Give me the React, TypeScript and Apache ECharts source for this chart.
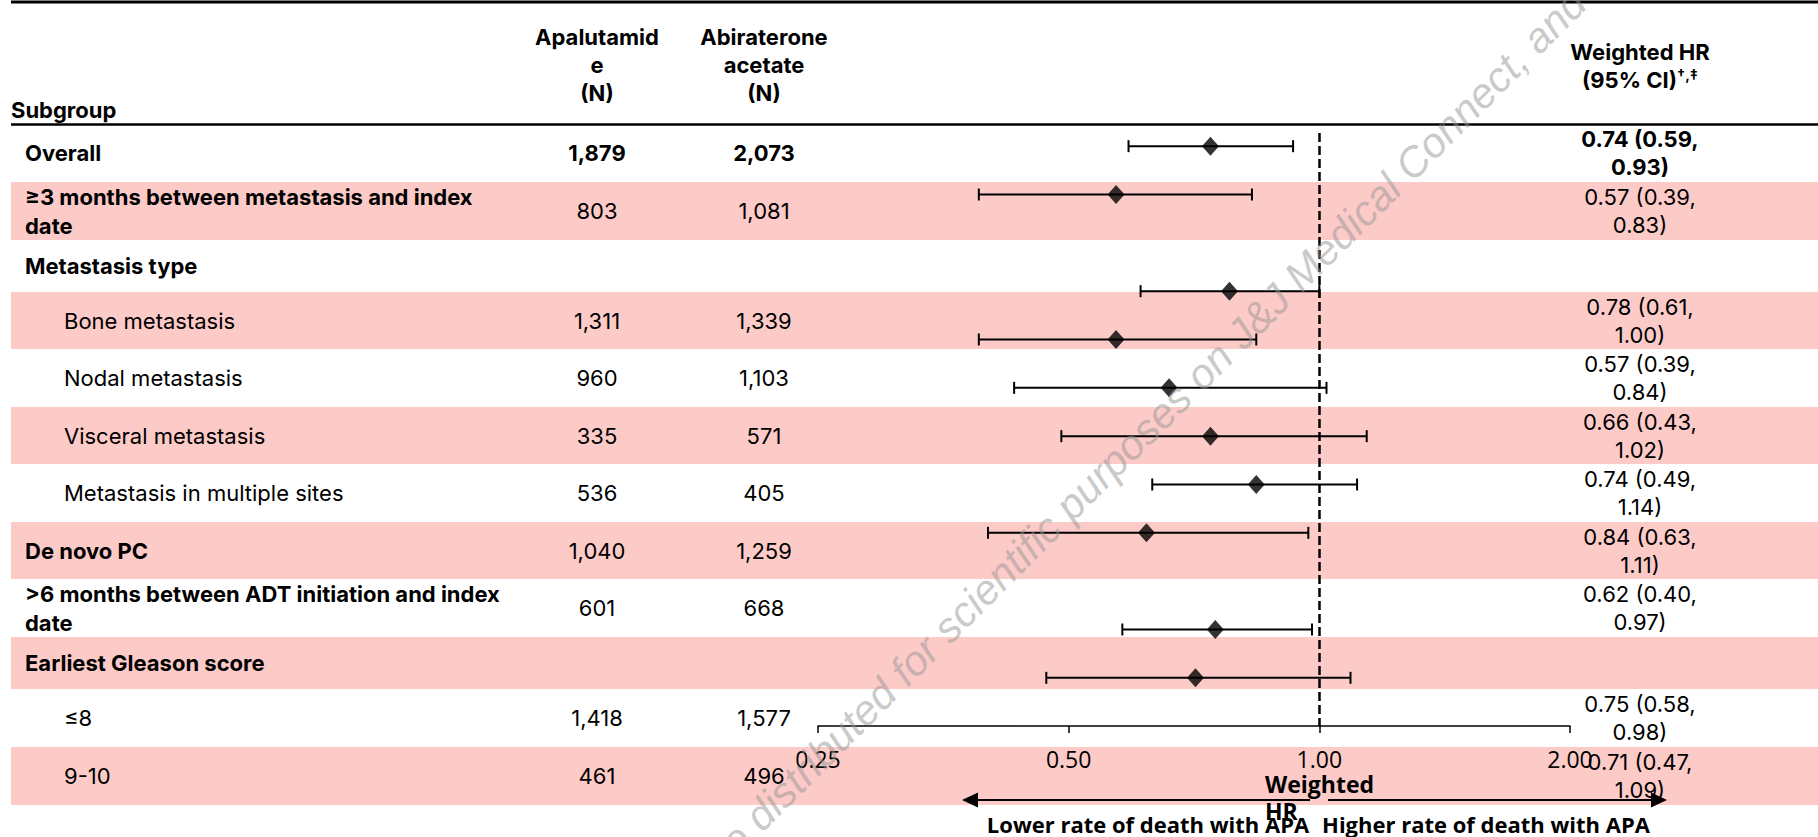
import React, { useEffect, useRef } from "react";
import * as echarts from "echarts";

// ---------------- data ----------------
const subgroups: string[] = [
  "Overall",
  "≥3 months between metastasis and index\ndate",
  "Metastasis type",
  "Bone metastasis",
  "Nodal metastasis",
  "Visceral metastasis",
  "Metastasis in multiple sites",
  "De novo PC",
  ">6 months between ADT initiation and index\ndate",
  "Earliest Gleason score",
  "≤8",
  "9-10",
];
const isHeading: boolean[] = [true, true, true, false, false, false, false, true, true, true, false, false];
const apalutamideN: (number | null)[] = [1879, 803, null, 1311, 960, 335, 536, 1040, 601, null, 1418, 461];
const abirateroneN: (number | null)[] = [2073, 1081, null, 1339, 1103, 571, 405, 1259, 668, null, 1577, 496];
const hrValues: (number | null)[] = [0.74, 0.57, null, 0.78, 0.57, 0.66, 0.74, 0.84, 0.62, null, 0.75, 0.71];
const ciLower: (number | null)[] = [0.59, 0.39, null, 0.61, 0.39, 0.43, 0.49, 0.63, 0.40, null, 0.58, 0.47];
const ciUpper: (number | null)[] = [0.93, 0.83, null, 1.00, 0.84, 1.02, 1.14, 1.11, 0.97, null, 0.98, 1.09];
const referenceHR = 1;
const xMin = 0.25;
const xMax = 2;

// ---------------- layout ----------------
const W = 1818;
const H = 837;
const TABLE_FONT = "Inter, 'Liberation Sans', sans-serif";
const AXIS_FONT = "'Open Sans', sans-serif";
const PINK = "#fccac7";
const ROW_TOP = 124;
const rowHeights = [58, 58, 52, 57, 58, 57, 58, 57, 58, 52, 58, 58];
const COL_APA = 597;
const COL_ABI = 764;
const COL_HR = 1640;

function fmtN(n: number | null) {
  return n == null ? "" : n.toLocaleString("en-US");
}

function buildGraphics() {
  const els: any[] = [];
  const tops: number[] = [];
  let t = ROW_TOP;
  rowHeights.forEach((h) => {
    tops.push(t);
    t += h;
  });

  // striped bands
  subgroups.forEach((_, i) => {
    if (i % 2 === 1) {
      els.push({
        type: "rect",
        z: 0,
        silent: true,
        shape: { x: 11, y: tops[i], width: W - 11, height: rowHeights[i] },
        style: { fill: PINK },
      });
    }
  });

  // rules
  els.push({ type: "line", z: 1, shape: { x1: 11, y1: 2, x2: W, y2: 2 }, style: { stroke: "#000", lineWidth: 3 } });
  els.push({ type: "line", z: 1, shape: { x1: 11, y1: 124.5, x2: W, y2: 124.5 }, style: { stroke: "#000", lineWidth: 2.5 } });

  const txt = (x: number, y: number, text: string, opts: any = {}) => ({
    type: "text",
    z: 10,
    x,
    y,
    style: {
      text,
      fill: "#000",
      fontFamily: TABLE_FONT,
      fontSize: 22,
      lineHeight: 28,
      align: "left",
      verticalAlign: "middle",
      ...opts,
    },
  });

  // header
  els.push(txt(11, 110, "Subgroup", { fontWeight: "bold" }));
  els.push(txt(COL_APA, 65, "Apalutamid\ne\n(N)", { fontWeight: "bold", align: "center" }));
  els.push(txt(COL_ABI, 65, "Abiraterone\nacetate\n(N)", { fontWeight: "bold", align: "center" }));
  els.push(
    txt(COL_HR, 66, "Weighted HR\n(95% CI){sup|†,‡}", {
      fontWeight: "bold",
      align: "center",
      rich: {
        sup: { fontSize: 14, fontWeight: "bold", fontFamily: TABLE_FONT, verticalAlign: "top", lineHeight: 28, padding: [1, 0, 0, 0] },
      },
    })
  );

  // rows
  subgroups.forEach((label, i) => {
    const cy = tops[i] + rowHeights[i] / 2;
    els.push(
      txt(isHeading[i] ? 25 : 64, cy, label, { fontWeight: isHeading[i] ? "bold" : "normal", lineHeight: 29 })
    );
    const bold = i === 0 ? "bold" : "normal";
    if (apalutamideN[i] != null) els.push(txt(COL_APA, cy, fmtN(apalutamideN[i]), { align: "center", fontWeight: bold }));
    if (abirateroneN[i] != null) els.push(txt(COL_ABI, cy, fmtN(abirateroneN[i]), { align: "center", fontWeight: bold }));
    if (hrValues[i] != null) {
      const s = `${hrValues[i]!.toFixed(2)} (${ciLower[i]!.toFixed(2)},\n${ciUpper[i]!.toFixed(2)})`;
      els.push(txt(COL_HR, cy, s, { align: "center", fontWeight: bold }));
    }
  });

  // axis annotations
  els.push({
    type: "text",
    z: 10,
    x: 1265,
    y: 797,
    style: {
      text: "Weighted\nHR",
      fill: "#000",
      fontFamily: AXIS_FONT,
      fontWeight: "bold",
      fontSize: 23,
      lineHeight: 27,
      align: "left",
      verticalAlign: "middle",
    },
  });
  els.push({ type: "line", z: 10, shape: { x1: 1310, y1: 800, x2: 972, y2: 800 }, style: { stroke: "#000", lineWidth: 2 } });
  els.push({
    type: "polygon",
    z: 10,
    shape: { points: [[962, 800], [978, 792.5], [978, 807.5]] },
    style: { fill: "#000" },
  });
  els.push({ type: "line", z: 10, shape: { x1: 1328, y1: 800, x2: 1656, y2: 800 }, style: { stroke: "#000", lineWidth: 2 } });
  els.push({
    type: "polygon",
    z: 10,
    shape: { points: [[1667, 800], [1651, 792.5], [1651, 807.5]] },
    style: { fill: "#000" },
  });
  const bottomText = { fill: "#000", fontFamily: AXIS_FONT, fontWeight: "bold", fontSize: 22, lineHeight: 24, align: "center", verticalAlign: "middle" };
  els.push({ type: "text", z: 10, x: 1148, y: 824, style: { ...bottomText, text: "Lower rate of death with APA" } });
  els.push({ type: "text", z: 10, x: 1486, y: 824, style: { ...bottomText, text: "Higher rate of death with APA" } });

  // watermark
  const wmStyle = {
    fill: "rgba(150,150,150,0.5)",
    fontFamily: "'Liberation Sans', sans-serif",
    fontStyle: "italic",
    fontSize: 42,
    verticalAlign: "middle",
  };
  els.push({
    type: "text",
    z: 100,
    silent: true,
    x: 752,
    y: 823,
    rotation: Math.PI / 4,
    style: { ...wmStyle, text: "distributed for scientific purposes on J&J Medical Connect, and", align: "left" },
  });
  els.push({
    type: "text",
    z: 100,
    silent: true,
    x: 752,
    y: 823,
    rotation: Math.PI / 4,
    style: { ...wmStyle, text: "Content also ", align: "right" },
  });
  return els;
}

export default function App() {
  const ref = useRef<HTMLDivElement>(null);
  useEffect(() => {
    if (!ref.current) return;
    const chart = echarts.init(ref.current, null, { renderer: "svg" });

    const points = hrValues
      .map((v, i) => (v == null ? null : [v, i]))
      .filter((d) => d != null);
    const ciData = hrValues
      .map((v, i) => (v == null ? null : [ciLower[i], ciUpper[i], i]))
      .filter((d) => d != null);

    chart.setOption({
      animation: false,
      backgroundColor: "#fff",
      grid: { left: 818, width: 752, top: 122, height: 580, containLabel: false },
      xAxis: {
        type: "log",
        logBase: 2,
        min: xMin,
        max: xMax,
        offset: 24,
        z: 5,
        axisLine: { show: true, lineStyle: { color: "#000", width: 1.5 } },
        axisTick: { show: true, length: 7, lineStyle: { color: "#000", width: 1.5 } },
        splitLine: { show: false },
        minorTick: { show: false },
        axisLabel: {
          color: "#000",
          fontFamily: AXIS_FONT,
          fontSize: 23,
          margin: 21,
          formatter: (v: number) => v.toFixed(2),
        },
      },
      yAxis: {
        type: "category",
        data: subgroups,
        inverse: true,
        show: false,
      },
      series: [
        {
          type: "custom",
          z: 3,
          encode: { x: [0, 1], y: 2 },
          data: ciData,
          renderItem: (params: any, api: any) => {
            const y = api.value(2);
            const a = api.coord([api.value(0), y]);
            const b = api.coord([api.value(1), y]);
            const st = { stroke: "#000", lineWidth: 2 };
            const cap = 6;
            return {
              type: "group",
              children: [
                { type: "line", shape: { x1: a[0], y1: a[1], x2: b[0], y2: b[1] }, style: st },
                { type: "line", shape: { x1: a[0], y1: a[1] - cap, x2: a[0], y2: a[1] + cap }, style: st },
                { type: "line", shape: { x1: b[0], y1: b[1] - cap, x2: b[0], y2: b[1] + cap }, style: st },
              ],
            };
          },
        },
        {
          type: "scatter",
          z: 4,
          symbol: "diamond",
          symbolSize: [17, 19],
          itemStyle: { color: "#000" },
          data: points,
          markLine: {
            silent: true,
            symbol: ["none", "none"],
            label: { show: false },
            lineStyle: { color: "#000", width: 2.5, type: [9, 4] },
            data: [[{ xAxis: referenceHR, y: 133 }, { xAxis: referenceHR, y: 726 }]],
          },
        },
      ],
      graphic: { elements: buildGraphics() },
    });
    return () => chart.dispose();
  }, []);

  return <div ref={ref} style={{ position: "fixed", left: 0, top: 0, width: W, height: H }} />;
}
